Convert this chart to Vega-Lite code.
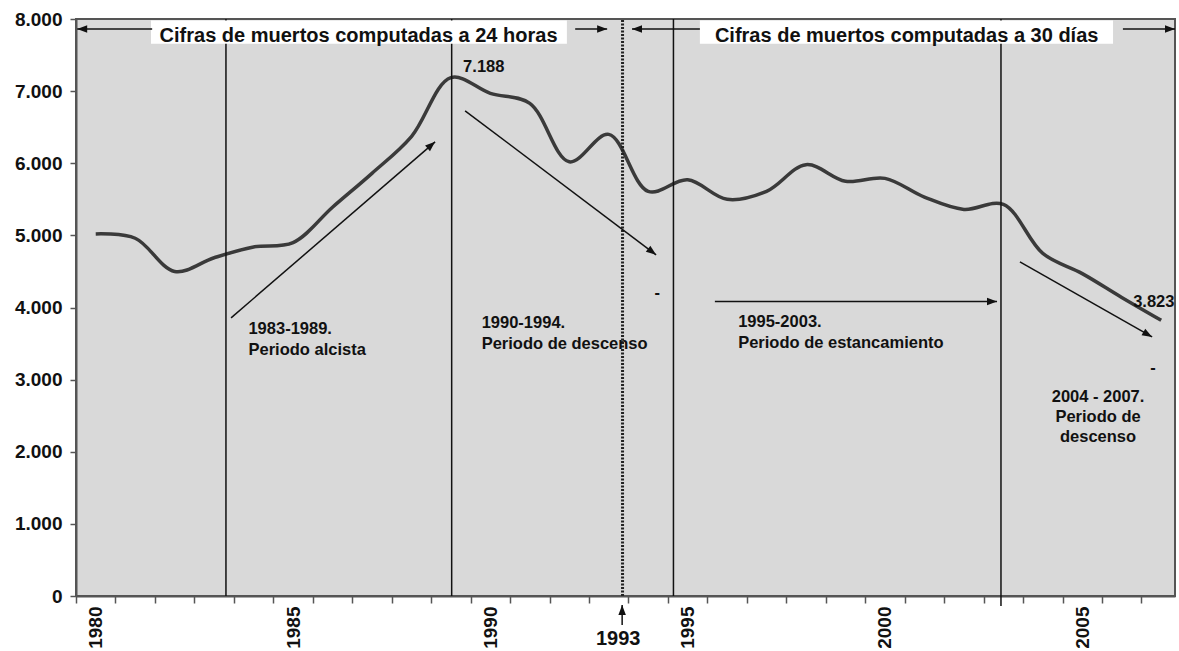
{
  "$schema": "https://vega.github.io/schema/vega-lite/v6.json",
  "width": 1099,
  "height": 577,
  "autosize": {"type": "none"},
  "padding": {"left": 76, "top": 19, "right": 4, "bottom": 55},
  "background": "white",
  "config": {
    "view": {"fill": "#d9d9d9", "stroke": "#555555", "strokeWidth": 2},
    "font": "Liberation Sans"
  },
  "datasets": {
    "deaths": [
      {"year": 1980, "deaths": 5020},
      {"year": 1981, "deaths": 4960},
      {"year": 1982, "deaths": 4500},
      {"year": 1983, "deaths": 4690},
      {"year": 1984, "deaths": 4840},
      {"year": 1985, "deaths": 4900},
      {"year": 1986, "deaths": 5390},
      {"year": 1987, "deaths": 5860},
      {"year": 1988, "deaths": 6370},
      {"year": 1989, "deaths": 7188},
      {"year": 1990, "deaths": 6970},
      {"year": 1991, "deaths": 6830},
      {"year": 1992, "deaths": 6020},
      {"year": 1993, "deaths": 6400},
      {"year": 1994, "deaths": 5610},
      {"year": 1995, "deaths": 5770},
      {"year": 1996, "deaths": 5500},
      {"year": 1997, "deaths": 5610},
      {"year": 1998, "deaths": 5980},
      {"year": 1999, "deaths": 5750},
      {"year": 2000, "deaths": 5790},
      {"year": 2001, "deaths": 5530},
      {"year": 2002, "deaths": 5360},
      {"year": 2003, "deaths": 5430},
      {"year": 2004, "deaths": 4750},
      {"year": 2005, "deaths": 4470},
      {"year": 2006, "deaths": 4140},
      {"year": 2007, "deaths": 3823}
    ],
    "vlines": [
      {"x": 1983.30, "y0": 0, "y1": 8000},
      {"x": 1989.02, "y0": 0, "y1": 8000},
      {"x": 1994.64, "y0": 0, "y1": 8000},
      {"x": 2002.94, "y0": -140, "y1": 8000}
    ],
    "dotted": [{"x": 1993.35, "y0": 0, "y1": 8000}],
    "boxes": [
      {"x": 1981.40, "x2": 1991.94, "y": 7656, "y2": 7979},
      {"x": 1995.31, "x2": 2005.78, "y": 7656, "y2": 7979}
    ],
    "boxtext": [
      {"x": 1986.66, "y": 7680, "t": "Cifras de muertos computadas a 24 horas"},
      {"x": 2000.55, "y": 7680, "t": "Cifras de muertos computadas a 30 días"}
    ],
    "arrows": [
      {"x": 1979.53, "y": 7860, "x2": 1981.43, "y2": 7860},
      {"x": 1992.15, "y": 7860, "x2": 1992.96, "y2": 7860},
      {"x": 1993.59, "y": 7860, "x2": 1995.31, "y2": 7860},
      {"x": 2006.03, "y": 7860, "x2": 2007.35, "y2": 7860},
      {"x": 1983.43, "y": 3856, "x2": 1988.60, "y2": 6297},
      {"x": 1989.36, "y": 6727, "x2": 1994.20, "y2": 4730},
      {"x": 1995.69, "y": 4082, "x2": 2002.84, "y2": 4082},
      {"x": 2003.42, "y": 4633, "x2": 2006.77, "y2": 3592},
      {"x": 1993.34, "y": -402, "x2": 1993.34, "y2": -125}
    ],
    "heads": [
      {"x": 1979.53, "y": 7860, "dir": "left"},
      {"x": 1993.59, "y": 7860, "dir": "left"},
      {"x": 1992.96, "y": 7860, "dir": "right"},
      {"x": 2007.35, "y": 7860, "dir": "right"},
      {"x": 2002.84, "y": 4082, "dir": "right"},
      {"x": 1988.60, "y": 6297, "dir": "upright"},
      {"x": 1994.20, "y": 4730, "dir": "downright1"},
      {"x": 2006.77, "y": 3592, "dir": "downright2"},
      {"x": 1993.34, "y": -125, "dir": "up"}
    ],
    "notesleft": [
      {"x": 1983.87, "y": 3634, "t": "1983-1989.\nPeriodo alcista"},
      {"x": 1989.78, "y": 3721, "t": "1990-1994.\nPeriodo de descenso"},
      {"x": 1996.28, "y": 3727, "t": "1995-2003.\nPeriodo de estancamiento"},
      {"x": 1989.31, "y": 7268, "t": "7.188"},
      {"x": 2006.29, "y": 4008, "t": "3.823"}
    ],
    "notescenter": [
      {"x": 2005.40, "y": 2695, "t": "2004 - 2007.\nPeriodo de\ndescenso"},
      {"x": 1994.23, "y": 4133, "t": "-"},
      {"x": 2006.79, "y": 3093, "t": "-"}
    ],
    "yearmark": [{"x": 1993.24, "y": -680, "t": "1993"}]
  },
  "layer": [
    {
      "data": {"name": "deaths"},
      "mark": {"type": "line", "interpolate": "catmull-rom", "color": "#3a3a3a", "strokeWidth": 3.5},
      "encoding": {
        "x": {
          "field": "year", "type": "quantitative",
          "scale": {"domain": [1979.5, 2007.35], "nice": false, "zero": false},
          "axis": {
            "values": [1979.5,1980.5,1981.5,1982.5,1983.5,1984.5,1985.5,1986.5,1987.5,1988.5,1989.5,1990.5,1991.5,1992.5,1993.5,1994.5,1995.5,1996.5,1997.5,1998.5,1999.5,2000.5,2001.5,2002.5,2003.5,2004.5,2005.5,2006.5],
            "labelOffset": 19.73,
            "labelExpr": "(datum.value + 0.5) % 5 === 0 ? format(datum.value + 0.5, 'd') : ''",
            "labelAngle": -90, "labelAlign": "right", "labelBaseline": "middle",
            "labelFont": "Liberation Sans", "labelFontWeight": "bold", "labelFontSize": 19, "labelColor": "#111111",
            "labelPadding": 3, "tickSize": 7, "tickColor": "#555555", "tickWidth": 1.5,
            "domainColor": "#555555", "domainWidth": 2, "grid": false, "title": null,
            "labelFlush": false, "labelOverlap": false, "labelBound": false
          }
        },
        "y": {
          "field": "deaths", "type": "quantitative",
          "scale": {"domain": [0, 8000], "nice": false, "zero": true},
          "axis": {
            "values": [0,1000,2000,3000,4000,5000,6000,7000,8000],
            "labelExpr": "replace(format(datum.value, ','), ',', '.')",
            "labelFont": "Liberation Sans", "labelFontWeight": "bold", "labelFontSize": 19, "labelColor": "#111111",
            "labelPadding": 8, "tickSize": 6, "tickColor": "#555555", "tickWidth": 1.5,
            "domainColor": "#555555", "domainWidth": 2, "grid": false, "title": null,
            "labelFlush": false, "labelOverlap": false
          }
        }
      }
    },
    {
      "data": {"name": "vlines"},
      "mark": {"type": "rule", "color": "#111111", "strokeWidth": 1.5},
      "encoding": {
        "x": {"field": "x", "type": "quantitative"},
        "y": {"field": "y0", "type": "quantitative"},
        "y2": {"field": "y1"}
      }
    },
    {
      "data": {"name": "dotted"},
      "mark": {"type": "rule", "color": "#222222", "strokeWidth": 3, "strokeDash": [2, 1.5]},
      "encoding": {
        "x": {"field": "x", "type": "quantitative"},
        "y": {"field": "y0", "type": "quantitative"},
        "y2": {"field": "y1"}
      }
    },
    {
      "data": {"name": "boxes"},
      "mark": {"type": "rect", "color": "white"},
      "encoding": {
        "x": {"field": "x", "type": "quantitative"},
        "x2": {"field": "x2"},
        "y": {"field": "y", "type": "quantitative"},
        "y2": {"field": "y2"}
      }
    },
    {
      "data": {"name": "boxtext"},
      "mark": {"type": "text", "font": "Liberation Sans", "fontWeight": "bold", "fontSize": 20, "color": "#111111", "align": "center", "baseline": "alphabetic"},
      "encoding": {
        "x": {"field": "x", "type": "quantitative"},
        "y": {"field": "y", "type": "quantitative"},
        "text": {"field": "t", "type": "nominal"}
      }
    },
    {
      "data": {"name": "arrows"},
      "mark": {"type": "rule", "color": "#111111", "strokeWidth": 1.5},
      "encoding": {
        "x": {"field": "x", "type": "quantitative"},
        "y": {"field": "y", "type": "quantitative"},
        "x2": {"field": "x2"},
        "y2": {"field": "y2"}
      }
    },
    {
      "data": {"name": "heads"},
      "transform": [{"filter": "datum.dir === 'left'"}],
      "mark": {"type": "point", "shape": "M0,0L-2,-0.75L-2,0.75Z", "size": 100, "filled": true, "color": "#111111", "opacity": 1, "angle": 180},
      "encoding": {
        "x": {"field": "x", "type": "quantitative"},
        "y": {"field": "y", "type": "quantitative"}
      }
    },
    {
      "data": {"name": "heads"},
      "transform": [{"filter": "datum.dir === 'right'"}],
      "mark": {"type": "point", "shape": "M0,0L-2,-0.75L-2,0.75Z", "size": 100, "filled": true, "color": "#111111", "opacity": 1, "angle": 0},
      "encoding": {
        "x": {"field": "x", "type": "quantitative"},
        "y": {"field": "y", "type": "quantitative"}
      }
    },
    {
      "data": {"name": "heads"},
      "transform": [{"filter": "datum.dir === 'upright'"}],
      "mark": {"type": "point", "shape": "M0,0L-2,-0.75L-2,0.75Z", "size": 100, "filled": true, "color": "#111111", "opacity": 1, "angle": -40.8},
      "encoding": {
        "x": {"field": "x", "type": "quantitative"},
        "y": {"field": "y", "type": "quantitative"}
      }
    },
    {
      "data": {"name": "heads"},
      "transform": [{"filter": "datum.dir === 'downright1'"}],
      "mark": {"type": "point", "shape": "M0,0L-2,-0.75L-2,0.75Z", "size": 100, "filled": true, "color": "#111111", "opacity": 1, "angle": 37},
      "encoding": {
        "x": {"field": "x", "type": "quantitative"},
        "y": {"field": "y", "type": "quantitative"}
      }
    },
    {
      "data": {"name": "heads"},
      "transform": [{"filter": "datum.dir === 'downright2'"}],
      "mark": {"type": "point", "shape": "M0,0L-2,-0.75L-2,0.75Z", "size": 100, "filled": true, "color": "#111111", "opacity": 1, "angle": 29.6},
      "encoding": {
        "x": {"field": "x", "type": "quantitative"},
        "y": {"field": "y", "type": "quantitative"}
      }
    },
    {
      "data": {"name": "heads"},
      "transform": [{"filter": "datum.dir === 'up'"}],
      "mark": {"type": "point", "shape": "M0,0L-2,-0.75L-2,0.75Z", "size": 100, "filled": true, "color": "#111111", "opacity": 1, "angle": -90},
      "encoding": {
        "x": {"field": "x", "type": "quantitative"},
        "y": {"field": "y", "type": "quantitative"}
      }
    },
    {
      "data": {"name": "notesleft"},
      "mark": {"type": "text", "font": "Liberation Sans", "fontWeight": "bold", "fontSize": 16.5, "color": "#111111", "align": "left", "baseline": "alphabetic", "lineBreak": "\n", "lineHeight": 21},
      "encoding": {
        "x": {"field": "x", "type": "quantitative"},
        "y": {"field": "y", "type": "quantitative"},
        "text": {"field": "t", "type": "nominal"}
      }
    },
    {
      "data": {"name": "notescenter"},
      "mark": {"type": "text", "font": "Liberation Sans", "fontWeight": "bold", "fontSize": 16.5, "color": "#111111", "align": "center", "baseline": "alphabetic", "lineBreak": "\n", "lineHeight": 20},
      "encoding": {
        "x": {"field": "x", "type": "quantitative"},
        "y": {"field": "y", "type": "quantitative"},
        "text": {"field": "t", "type": "nominal"}
      }
    },
    {
      "data": {"name": "yearmark"},
      "mark": {"type": "text", "font": "Liberation Sans", "fontWeight": "bold", "fontSize": 20, "color": "#111111", "align": "center", "baseline": "alphabetic"},
      "encoding": {
        "x": {"field": "x", "type": "quantitative"},
        "y": {"field": "y", "type": "quantitative"},
        "text": {"field": "t", "type": "nominal"}
      }
    }
  ]
}
